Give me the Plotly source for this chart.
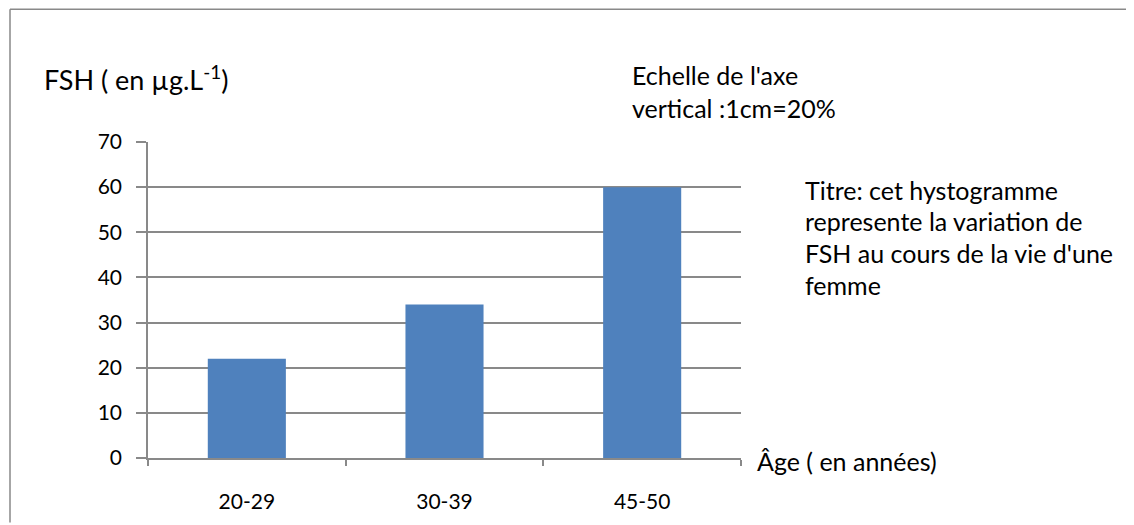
import plotly.graph_objects as go

categories = ["20-29", "30-39", "45-50"]
fsh_values = [22, 34, 60]
y_ticks = [0, 10, 20, 30, 40, 50, 60, 70]

OFF = 8  # page body margin
W, H = 1134 - OFF, 525 - OFF
# plot area in screen pixels
SL, SR, ST, SB = 148, 741, 142, 460
L, R, T, B = SL - OFF, SR - OFF, ST - OFF, SB - OFF


def px(x):
    return (x - OFF - L) / (R - L)


def py(y):
    return (B - (y - OFF)) / (B - T)


FONT = "Lato"
GRAY = "#898989"

fig = go.Figure()
fig.add_trace(go.Bar(x=categories, y=fsh_values, marker=dict(color="#4F81BD", line=dict(width=0)),
                     width=0.395))

fig.update_layout(
    width=W, height=H,
    margin=dict(l=L, r=W - R, t=T, b=H - B, pad=0),
    paper_bgcolor="white", plot_bgcolor="white",
    showlegend=False,
    font=dict(family=FONT, size=22, color="#000"),
)
fig.update_xaxes(
    showline=True, linecolor=GRAY, linewidth=1.5,
    ticks="outside", tickson="boundaries", ticklen=6, tickcolor=GRAY, tickwidth=1.5,
    showgrid=False, tickfont=dict(size=21, color="#000"), range=[-0.5, 2.5],
    ticklabelstandoff=24,
)
fig.update_yaxes(
    range=[0, 70], tickvals=y_ticks, showline=True, linecolor=GRAY, linewidth=1.5,
    ticks="outside", ticklen=10, tickcolor=GRAY, tickwidth=1.5,
    showgrid=True, gridcolor=GRAY, gridwidth=1.5, zeroline=False,
    tickfont=dict(size=21, color="#000"), ticklabelstandoff=10,
)

# frame (left and top lines)
fig.add_shape(type="line", xref="paper", yref="paper", x0=px(10), x1=px(1134), y0=py(8.5), y1=py(8.5),
              line=dict(color=GRAY, width=1.5))
fig.add_shape(type="line", xref="paper", yref="paper", x0=px(10), x1=px(10), y0=py(8.5), y1=py(525),
              line=dict(color=GRAY, width=1.5))


def text(x, y, s, size=25):
    fig.add_annotation(xref="paper", yref="paper", x=px(x), y=py(y), text=s, showarrow=False,
                       xanchor="left", yanchor="middle", align="left",
                       font=dict(family=FONT, size=size, color="#000"))


text(42, 78, "FSH ( en µg.L<sup>-1</sup>)", 27)
text(630, 75, "Echelle de l'axe")
text(630, 108, "vertical :1cm=20%")
text(803, 190, "Titre: cet hystogramme")
text(803, 222, "represente la variation de")
text(803, 254, "FSH au cours de la vie d'une")
text(803, 286, "femme")
text(755, 463, "Âge ( en années)")

fig.write_html("out.html")
